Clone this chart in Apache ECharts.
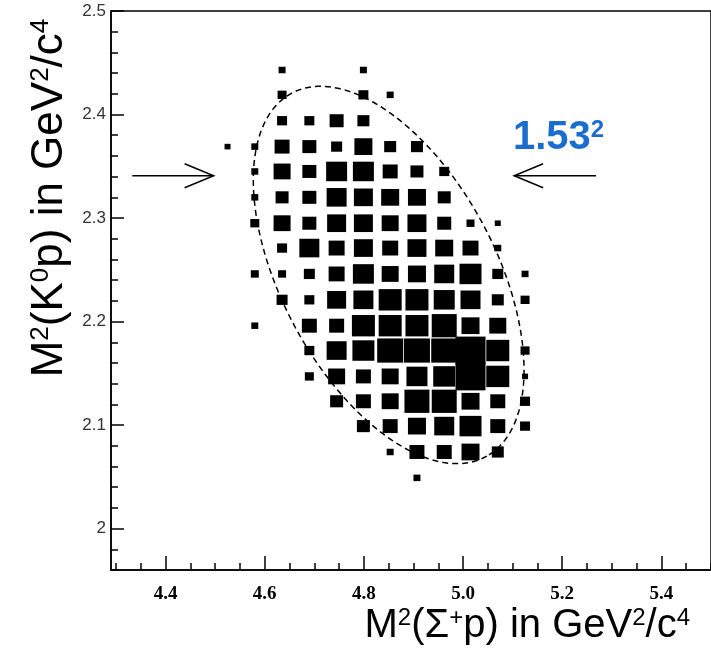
<!DOCTYPE html>
<html>
<head>
<meta charset="utf-8">
<title>M2(K0p) vs M2(Sigma+p)</title>
<script src="https://cdn.jsdelivr.net/npm/echarts@6/dist/echarts.min.js"></script>
<style>
  html, body { margin: 0; padding: 0; background: #fff; }
  #chart { width: 711px; height: 654px; }
</style>
</head>
<body>
<div id="chart"></div>
<script>
// bin centres
var xCenters = [4.525, 4.580, 4.635, 4.690, 4.745, 4.799, 4.853, 4.907, 4.962, 5.015, 5.070, 5.125];
var yCenters = [2.443, 2.419, 2.394, 2.369, 2.345, 2.320, 2.295, 2.271, 2.246, 2.221, 2.196, 2.172, 2.147, 2.123, 2.099, 2.074, 2.049];

// box contents, one row per y bin (top to bottom), one entry per x bin, 0 = empty
var counts = [
  [0, 0, 7, 0, 0, 7, 0, 0, 0, 0, 0, 0],
  [0, 0, 9, 0, 0, 10, 7, 0, 0, 0, 0, 0],
  [0, 0, 10, 10, 14, 12, 0, 0, 0, 0, 0, 0],
  [6, 7, 15, 14, 11, 18, 12, 12, 0, 0, 0, 0],
  [0, 7, 17, 14, 21, 21, 15, 13, 10, 0, 0, 0],
  [0, 7, 13, 14, 20, 19, 18, 18, 13, 0, 0, 0],
  [0, 9, 17, 14, 19, 19, 17, 19, 14, 8, 6, 0],
  [0, 0, 10, 20, 16, 19, 16, 19, 18, 16, 7, 0],
  [0, 8, 8, 11, 16, 21, 17, 18, 20, 22, 11, 7],
  [0, 0, 11, 10, 19, 20, 23, 23, 21, 20, 12, 9],
  [0, 7, 0, 15, 15, 23, 23, 23, 25, 18, 17, 0],
  [0, 0, 0, 10, 20, 22, 26, 26, 26, 30, 23, 9],
  [0, 0, 0, 9, 17, 15, 17, 21, 22, 30, 23, 6],
  [0, 0, 0, 0, 13, 15, 17, 25, 25, 18, 15, 10],
  [0, 0, 0, 0, 0, 13, 15, 18, 20, 22, 15, 10],
  [0, 0, 0, 0, 0, 0, 7, 15, 15, 18, 12, 0],
  [0, 0, 0, 0, 0, 0, 0, 7, 0, 0, 0, 0]
];

// axis ticks
var xMajorTicks = [4.4, 4.6, 4.8, 5.0, 5.2, 5.4];
var yMajorTicks = [2.0, 2.1, 2.2, 2.3, 2.4, 2.5];

// contour around the signal region: centre and two conjugate semi-axes
var ellipseCenter = [4.850, 2.245];
var ellipseU = [0.198, -0.175];
var ellipseV = [-0.188, -0.051];

// arrows marking M = 1.53 GeV/c2
var markMass = 1.53;
var arrowTailX = [4.333, 5.268];
var arrowTipX = [4.497, 5.103];

var boxData = [];
counts.forEach(function (row, i) {
  row.forEach(function (c, j) {
    if (c > 0) boxData.push([xCenters[j], yCenters[i], c]);
  });
});

var ellipseData = [];
for (var k = 0; k <= 144; k++) {
  var t = k / 144 * 2 * Math.PI;
  ellipseData.push([
    ellipseCenter[0] + ellipseU[0] * Math.cos(t) + ellipseV[0] * Math.sin(t),
    ellipseCenter[1] + ellipseU[1] * Math.cos(t) + ellipseV[1] * Math.sin(t)
  ]);
}

var arrowData = arrowTailX.map(function (x, i) {
  return [x, arrowTipX[i], markMass * markMass];
});

// minor ticks every 0.05 (x) and 0.02 (y)
var xMinorTicks = [];
for (var a = 86; a <= 110; a++) xMinorTicks.push(a * 0.05);
var yMinorTicks = [];
for (var b = 98; b <= 125; b++) yMinorTicks.push(b * 0.02);

function titleRich(size) {
  return {
    n: { fontSize: size, fontFamily: 'Liberation Sans', fill: '#000' },
    s: { fontSize: Math.round(size * 0.6), fontFamily: 'Liberation Sans', fill: '#000', verticalAlign: 'top' }
  };
}

var chart = echarts.init(document.getElementById('chart'));
chart.setOption({
  animation: false,
  backgroundColor: '#fff',
  grid: {
    left: 111, top: 11, width: 612, height: 559,
    show: true, borderColor: '#000', borderWidth: 1.5, backgroundColor: '#fff'
  },
  xAxis: [
    {
      type: 'value', min: 4.29, max: 5.5, position: 'bottom',
      axisLine: { show: true, lineStyle: { color: '#000', width: 1.5 } },
      axisTick: { inside: true, length: 14, customValues: xMajorTicks, lineStyle: { color: '#000', width: 1.5 } },
      axisLabel: {
        customValues: xMajorTicks, margin: 15, color: '#000',
        fontFamily: 'Liberation Serif', fontWeight: 'bold', fontSize: 19,
        formatter: function (v) { return v.toFixed(1); }
      },
      splitLine: { show: false }
    },
    {
      type: 'value', min: 4.29, max: 5.5, position: 'bottom',
      axisLine: { show: false },
      axisTick: { inside: true, length: 7, customValues: xMinorTicks, lineStyle: { color: '#000', width: 1.5 } },
      axisLabel: { show: false },
      splitLine: { show: false }
    }
  ],
  yAxis: [
    {
      type: 'value', min: 1.96, max: 2.5, position: 'left',
      axisLine: { show: true, lineStyle: { color: '#000', width: 1.5 } },
      axisTick: { inside: true, length: 13, customValues: yMajorTicks, lineStyle: { color: '#000', width: 1.5 } },
      axisLabel: {
        customValues: yMajorTicks, margin: 5, color: '#333',
        fontFamily: 'Liberation Sans', fontSize: 17,
        formatter: function (v) { return v === 2 ? '2' : v.toFixed(1); }
      },
      splitLine: { show: false }
    },
    {
      type: 'value', min: 1.96, max: 2.5, position: 'left',
      axisLine: { show: false },
      axisTick: { inside: true, length: 7, customValues: yMinorTicks, lineStyle: { color: '#000', width: 1.5 } },
      axisLabel: { show: false },
      splitLine: { show: false }
    }
  ],
  series: [
    {
      name: 'events',
      type: 'scatter',
      symbol: 'rect',
      symbolSize: function (v) { return [v[2], v[2] * 0.93]; },
      itemStyle: { color: '#000', opacity: 1 },
      silent: true,
      data: boxData
    },
    {
      name: 'contour',
      type: 'line',
      data: ellipseData,
      showSymbol: false,
      symbol: 'none',
      silent: true,
      lineStyle: { color: '#000', width: 1.5, type: [6, 4] }
    },
    {
      name: 'arrows',
      type: 'custom',
      silent: true,
      encode: { x: [0, 1], y: 2 },
      data: arrowData,
      renderItem: function (params, api) {
        var tail = api.coord([api.value(0), api.value(2)]);
        var tip = api.coord([api.value(1), api.value(2)]);
        var dir = tip[0] > tail[0] ? 1 : -1;
        return {
          type: 'group',
          children: [
            {
              type: 'line',
              shape: { x1: tail[0], y1: tail[1], x2: tip[0], y2: tip[1] },
              style: { stroke: '#000', lineWidth: 1.5 }
            },
            {
              type: 'polyline',
              shape: { points: [[tip[0] - dir * 29, tip[1] - 12], tip, [tip[0] - dir * 29, tip[1] + 12]] },
              style: { stroke: '#000', fill: null, lineWidth: 1.5 }
            }
          ]
        };
      }
    }
  ],
  graphic: [
    {
      type: 'text', x: 690, y: 626,
      style: {
        text: '{n|M}{s|2}{n|(Σ}{s|+}{n|p) in GeV}{s|2}{n|/c}{s|4}',
        rich: titleRich(40), align: 'right', verticalAlign: 'middle'
      }
    },
    {
      type: 'text', x: 50, y: 198, rotation: Math.PI / 2,
      style: {
        text: '{n|M}{s|2}{n|(K}{s|0}{n|p) in GeV}{s|2}{n|/c}{s|4}',
        rich: titleRich(44), align: 'center', verticalAlign: 'middle'
      }
    },
    {
      type: 'text', x: 513, y: 138,
      style: {
        text: '{n|1.53}{s|2}',
        rich: {
          n: { fontSize: 40, fontWeight: 'bold', fontFamily: 'Liberation Sans', fill: '#1b6ccf' },
          s: { fontSize: 24, fontWeight: 'bold', fontFamily: 'Liberation Sans', fill: '#1b6ccf', verticalAlign: 'top' }
        },
        align: 'left', verticalAlign: 'middle'
      }
    }
  ]
});
</script>
</body>
</html>
